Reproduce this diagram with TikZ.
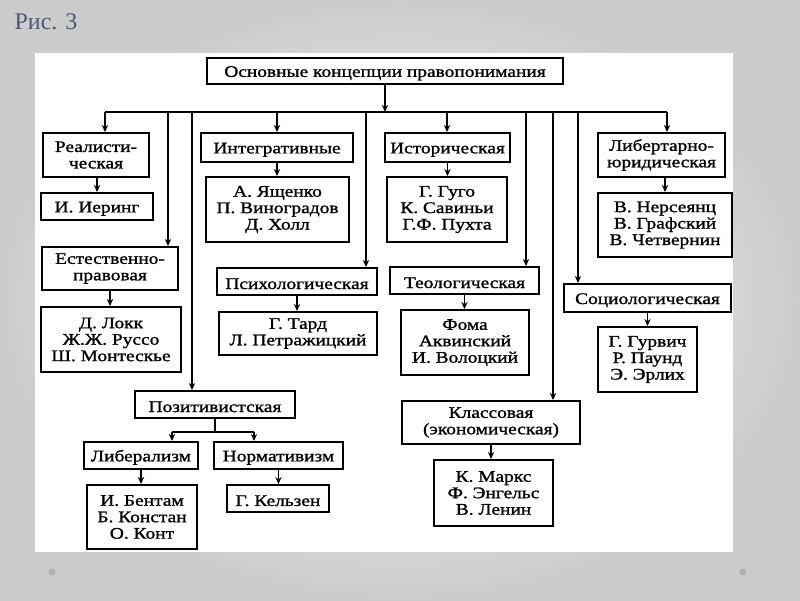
\documentclass[tikz,border=0pt]{standalone}
\usepackage{fontspec}
\setmainfont{Liberation Serif}
\newfontfamily\boxfont[FakeStretch=1.2, FakeBold=1.2]{Liberation Serif}
\usetikzlibrary{arrows.meta}
\usepackage{xcolor}
\definecolor{figblue}{HTML}{4A5878}

\tikzset{
  box/.style={draw, line width=1.4pt, fill=white, align=center, inner sep=0pt,
    font=\boxfont\fontsize{11.5}{11.7}\selectfont,
    execute at begin node={\rule{0pt}{10.8pt}}},
  con/.style={line width=1.1pt},
  arr/.style={con, -{Stealth[length=5pt,width=4.5pt]}},
}

\begin{document}
\begin{tikzpicture}[x=0.025cm, y=-0.025cm]
        \useasboundingbox (0,0) rectangle (800,600);
        \shade[inner color=white, outer color=gray!40] (0,0) rectangle (800,600);
        \fill[white] (35,53) rectangle (733,552);
        \node[text=figblue, font=\fontsize{17}{17}\selectfont] (Fig) at (46,22) {Рис. 3};
        \fill[gray!60] (52,572) circle (3.5);
        \fill[gray!60] (743,572) circle (3.5);

        \node[box, minimum width=89mm, minimum height=6.5mm] (Top) at (385,71) {Основные концепции правопонимания};

        % left column
        \node[box, minimum width=26.5mm, minimum height=11mm] (Real) at (96,155) {Реалисти-\\ческая};
        \node[box, minimum width=28mm, minimum height=6.75mm] (Iering) at (97,206.5) {И. Иеринг};
        \node[box, minimum width=34mm, minimum height=10.75mm] (Estest) at (110,268.5) {Естественно-\\правовая};
        \node[box, minimum width=35mm, minimum height=16.25mm] (Lokk) at (111,339.5) {Д. Локк\\Ж.Ж. Руссо\\Ш. Монтескье};
        \node[box, minimum width=40mm, minimum height=6.75mm] (Pozit) at (215,404.5) {Позитивистская};
        \node[box, minimum width=28.5mm, minimum height=6.75mm] (Liber) at (141,455.5) {Либерализм};
        \node[box, minimum width=32.25mm, minimum height=6.75mm] (Norm) at (278.5,455.5) {Нормативизм};
        \node[box, minimum width=27.5mm, minimum height=16mm] (Bentam) at (142,517) {И. Бентам\\Б. Констан\\О. Конт};
        \node[box, minimum width=25.5mm, minimum height=6.75mm] (Kelzen) at (278,498.5) {Г. Кельзен};

        % middle column
        \node[box, minimum width=38mm, minimum height=7.25mm] (Integ) at (277,147.5) {Интегративные};
        \node[box, minimum width=35.75mm, minimum height=16.25mm] (Yasch) at (277.5,209.5) {А. Ященко\\П. Виноградов\\Д. Холл};
        \node[box, minimum width=40mm, minimum height=6.75mm] (Psych) at (297,281.5) {Психологическая};
        \node[box, minimum width=39.5mm, minimum height=10.75mm] (Tard) at (298,333.5) {Г. Тард\\Л. Петражицкий};
        \node[box, minimum width=31.25mm, minimum height=7.25mm] (Istor) at (447.5,147.5) {Историческая};
        \node[box, minimum width=30mm, minimum height=16.25mm] (Gugo) at (447,209.5) {Г. Гуго\\К. Савиньи\\Г.Ф. Пухта};
        \node[box, minimum width=37.25mm, minimum height=6.75mm] (Teol) at (464.5,280.5) {Теологическая};
        \node[box, minimum width=32mm, minimum height=16.25mm] (Foma) at (465,342.5) {Фома\\Аквинский\\И. Волоцкий};
        \node[box, minimum width=44.5mm, minimum height=10.75mm] (Klass) at (491,422.5) {Классовая\\(экономическая)};
        \node[box, minimum width=29.75mm, minimum height=16.5mm] (Marks) at (493.5,493) {К. Маркс\\Ф. Энгельс\\В. Ленин};

        % right column
        \node[box, minimum width=31.75mm, minimum height=11mm] (Libert) at (661.5,155) {Либертарно-\\юридическая};
        \node[box, minimum width=33.5mm, minimum height=16mm] (Nerse) at (665,225) {В. Нерсеянц\\В. Графский\\В. Четвернин};
        \node[box, minimum width=41.75mm, minimum height=7mm] (Socio) at (647.5,298) {Социологическая};
        \node[box, minimum width=24.75mm, minimum height=16.25mm] (Gurv) at (647.5,359.5) {Г. Гурвич\\Р. Паунд\\Э. Эрлих};

        \coordinate (A) at (105,112);
        \coordinate (B) at (168,112);
        \coordinate (C) at (192,112);
        \coordinate (D) at (277,112);
        \coordinate (E) at (366,112);
        \coordinate (F) at (447,112);
        \coordinate (G) at (526,112);
        \coordinate (H) at (553,112);
        \coordinate (I) at (578,112);
        \coordinate (J) at (667,112);
        \coordinate (K) at (215,432);
        \coordinate (L) at (172,432);
        \coordinate (M) at (254,432);

        \draw[con] (A) -- (J);
        \draw[arr] (Top.south) -- (Top.south |- A);
        \draw[arr] (A) -- (A |- Real.north);
        \draw[arr] (B) -- (B |- Estest.north);
        \draw[arr] (C) -- (C |- Pozit.north);
        \draw[arr] (D) -- (D |- Integ.north);
        \draw[arr] (E) -- (E |- Psych.north);
        \draw[arr] (F) -- (F |- Istor.north);
        \draw[arr] (G) -- (G |- Teol.north);
        \draw[arr] (H) -- (H |- Klass.north);
        \draw[arr] (I) -- (I |- Socio.north);
        \draw[arr] (J) -- (J |- Libert.north);

        \draw[arr] (Iering.north |- Real.south) -- (Iering.north);
        \draw[arr] (Estest.south) -- (Estest.south |- Lokk.north);
        \draw[arr] (Integ.south) -- (Integ.south |- Yasch.north);
        \draw[arr] (Psych.south) -- (Psych.south |- Tard.north);
        \draw[arr] (Istor.south) -- (Istor.south |- Gugo.north);
        \draw[arr] (Teol.south) -- (Teol.south |- Foma.north);
        \draw[arr] (Klass.south) -- (Klass.south |- Marks.north);
        \draw[arr] (Nerse.north |- Libert.south) -- (Nerse.north);
        \draw[arr] (Socio.south) -- (Socio.south |- Gurv.north);

        \draw[con] (Pozit.south) -- (K);
        \draw[con] (L) -- (M);
        \draw[arr] (L) -- (L |- Liber.north);
        \draw[arr] (M) -- (M |- Norm.north);
        \draw[arr] (Liber.south) -- (Liber.south |- Bentam.north);
        \draw[arr] (Norm.south) -- (Norm.south |- Kelzen.north);
\end{tikzpicture}
\end{document}
